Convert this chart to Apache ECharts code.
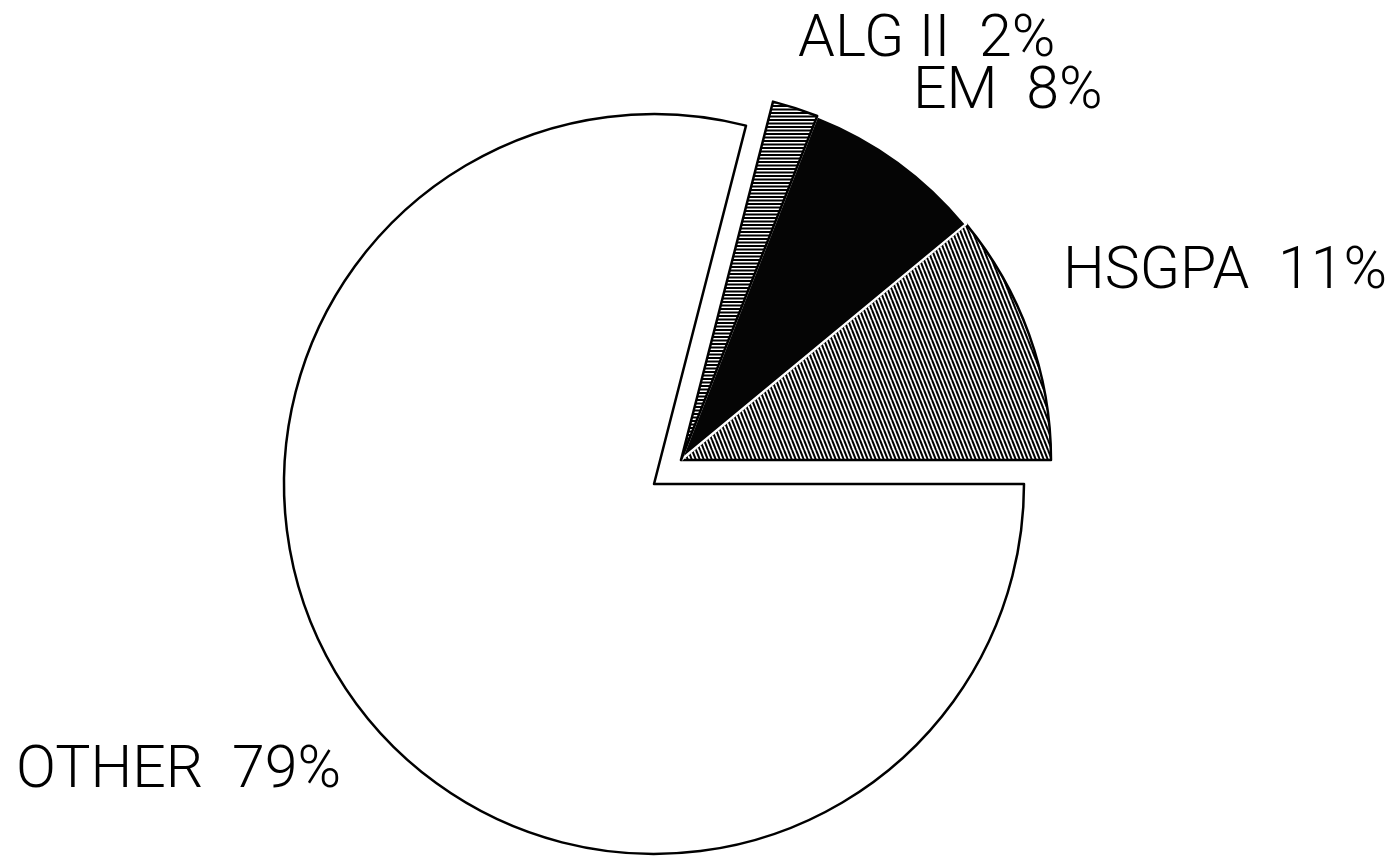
<!DOCTYPE html>
<html>
<head>
<meta charset="utf-8">
<script src="https://cdn.jsdelivr.net/npm/echarts@6/dist/echarts.min.js"></script>
<style>
  html, body { margin: 0; padding: 0; background: #fff; }
  #chart { width: 1396px; height: 863px; }
</style>
</head>
<body>
<div id="chart"></div>
<script>
// Slice names and their shares (percent)
const categories = ['HSGPA', 'EM', 'ALG II', 'OTHER'];
const shares = [11, 8, 2, 79];
// Slices pulled out of the pie as one group
const pulledOut = ['HSGPA', 'EM', 'ALG II'];

// Hatch fills
function makePattern(w, h, draw) {
  const c = document.createElement('canvas');
  c.width = w; c.height = h;
  const g = c.getContext('2d');
  g.fillStyle = '#fff';
  g.fillRect(0, 0, w, h);
  g.strokeStyle = '#000';
  g.fillStyle = '#000';
  draw(g);
  return { image: c, repeat: 'repeat' };
}
// steep diagonal lines
const diagonalHatch = makePattern(4, 10, g => {
  g.lineWidth = 2;
  [-4, 0, 4].forEach(o => {
    g.beginPath(); g.moveTo(o, 0); g.lineTo(o + 4, 10); g.stroke();
  });
});
// horizontal lines
const horizontalHatch = makePattern(8, 7, g => {
  g.fillRect(0, 0, 8, 2);
  g.fillRect(0, 3.5, 8, 2);
});

const fills = {
  'HSGPA': diagonalHatch,
  'EM': '#050505',
  'ALG II': horizontalHatch,
  'OTHER': '#ffffff'
};
const borders = {
  'HSGPA': '#000',
  'EM': '#fff',
  'ALG II': '#000',
  'OTHER': '#000'
};

// Label anchor points (left edge, vertical middle)
const labelAnchor = {
  'ALG II': [798, 41],
  'EM': [913, 93],
  'HSGPA': [1063, 273],
  'OTHER': [16, 772]
};

const hidden = { color: 'rgba(0,0,0,0)', borderWidth: 0 };

function buildData(visibleNames) {
  return categories.map((name, i) => {
    const visible = visibleNames.includes(name);
    return {
      name,
      value: shares[i],
      itemStyle: visible
        ? { color: fills[name], borderColor: borders[name], borderWidth: 2.5 }
        : hidden,
      label: { show: visible },
      emphasis: { disabled: true }
    };
  });
}

const labelStyle = {
  show: true,
  position: 'outside',
  formatter: '{b}  {d}%',
  fontFamily: 'Roboto',
  fontWeight: 300,
  fontSize: 59,
  color: '#000'
};

function layoutLabel(params) {
  const p = labelAnchor[categories[params.dataIndex]];
  if (!p) return {};
  return { x: p[0], y: p[1], align: 'left', verticalAlign: 'middle' };
}

const common = {
  type: 'pie',
  radius: 370,
  startAngle: 0,
  clockwise: false,
  avoidLabelOverlap: false,
  silent: true,
  animation: false,
  labelLine: { show: false },
  label: labelStyle,
  labelLayout: layoutLabel
};

const chart = echarts.init(document.getElementById('chart'), null, { renderer: 'canvas' });
chart.setOption({
  backgroundColor: '#fff',
  series: [
    Object.assign({}, common, {
      center: [654, 484],
      data: buildData(categories.filter(n => !pulledOut.includes(n)))
    }),
    Object.assign({}, common, {
      center: [681, 460],
      data: buildData(pulledOut)
    })
  ]
});
</script>
</body>
</html>
